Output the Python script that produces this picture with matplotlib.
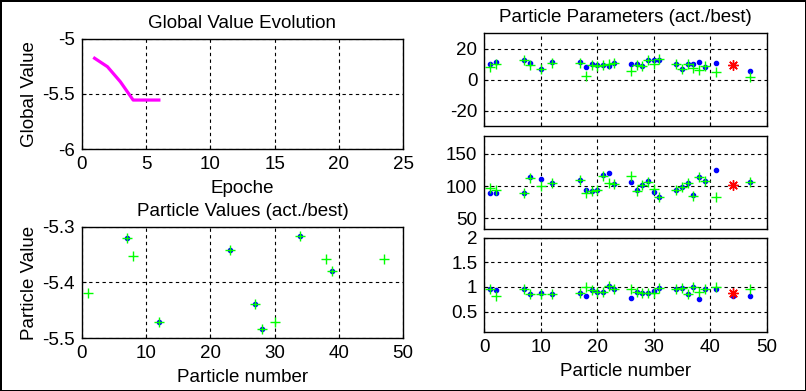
import numpy as np
import matplotlib.pyplot as plt

plt.rcParams['font.family'] = ['Liberation Sans', 'DejaVu Sans']
plt.rcParams['font.size'] = 13.5
plt.rcParams['axes.titlesize'] = 13.5
plt.rcParams['axes.labelsize'] = 13.5
plt.rcParams['xtick.labelsize'] = 13.5
plt.rcParams['ytick.labelsize'] = 13.5

# Global value per epoch
epochs = [1, 2, 3, 4, 5, 6]
global_value = [-5.175, -5.252, -5.388, -5.555, -5.555, -5.555]

# Particle values (act. = blue, best = green)
pv_act_idx = [7, 12, 23, 27, 28, 34, 39]
pv_act = [-5.321, -5.470, -5.342, -5.439, -5.484, -5.316, -5.379]
pv_best_idx = [1, 7, 8, 12, 23, 27, 28, 30, 34, 38, 39, 47]
pv_best = [-5.419, -5.321, -5.353, -5.470, -5.342, -5.439, -5.484, -5.470,
           -5.316, -5.357, -5.379, -5.358]

# Particle parameters
particles = [1, 2, 7, 8, 10, 12, 17, 18, 19, 20, 21, 22, 23, 26, 27, 28, 29,
             30, 31, 34, 35, 36, 37, 38, 39, 41, 47]
p1_act = [9.9, 11.8, 12.5, 10.8, 7.1, 11.2, 11.2, 8.4, 9.9, 9.5, 9.5, 9.2, 11.0,
          9.9, 9.9, 9.2, 12.9, 13.1, 13.1, 10.5, 6.7, 9.9, 10.5, 11.2, 8.4, 11.0, 5.4]
p1_best = [8.2, 10.5, 12.5, 9.7, 6.9, 11.0, 11.0, 2.6, 9.7, 9.2, 9.5, 9.9, 11.0,
           5.6, 9.7, 9.2, 12.9, 9.9, 13.3, 10.5, 6.7, 9.9, 7.5, 6.5, 8.6, 5.2, 1.9]
p2_act = [89.2, 89.2, 89.2, 113.4, 110.8, 105.2, 109.8, 93.8, 92.3, 93.3, 116.5,
          120.1, 103.6, 106.2, 93.8, 101.5, 107.2, 90.7, 83.0, 93.8, 98.5, 104.6,
          86.1, 113.9, 108.2, 124.7, 105.7]
p2_best = [96.9, 94.3, 89.2, 112.4, 100.5, 105.2, 109.3, 89.2, 91.8, 93.3, 115.0,
           104.6, 103.6, 116.0, 92.8, 101.5, 106.7, 95.9, 83.0, 93.3, 98.5, 104.6,
           84.5, 113.4, 107.2, 83.0, 106.2]
p3_act = [0.967, 0.94, 0.967, 0.86, 0.873, 0.847, 0.867, 0.807, 0.94, 0.887, 0.887,
          1.013, 0.967, 0.78, 0.9, 0.88, 0.88, 0.907, 0.98, 0.96, 0.98, 0.853,
          0.993, 0.76, 0.96, 0.967, 0.807]
p3_best = [0.953, 0.82, 0.967, 0.86, 0.86, 0.847, 0.867, 1.0, 0.94, 0.887, 0.887,
           1.02, 0.967, 0.953, 0.9, 0.88, 0.88, 0.873, 0.98, 0.96, 0.98, 0.853,
           1.0, 0.887, 0.96, 1.0, 0.953]

# Global best particle
gbest_idx = 44
gbest_params = [9.7, 101.5, 0.88]
gbest_act = [9.7, 101.5, 0.81]

W, H = 806, 391
fig = plt.figure(figsize=(W / 100, H / 100), dpi=100)
fig.patch.set_edgecolor('black')
fig.patch.set_linewidth(2)


def style(ax):
    ax.grid(True, color='black', linestyle=(0, (3, 3)), linewidth=0.8)
    ax.set_axisbelow(True)
    ax.tick_params(direction='in', length=3, color='black', pad=5)
    for s in ax.spines.values():
        s.set_linewidth(1.0)


# Global Value Evolution
ax1 = fig.add_axes([0.1014, 0.6189, 0.3988, 0.2814])
ax1.plot(epochs, global_value, color='magenta', lw=2.3)
ax1.set_xlim(0, 25)
ax1.set_ylim(-6, -5)
ax1.set_xticks([0, 5, 10, 15, 20, 25])
ax1.set_yticks([-6, -5.5, -5])
ax1.set_yticklabels(['-6', '-5.5', '-5'])
ax1.set_title('Global Value Evolution', pad=8)
ax1.set_xlabel('Epoche', labelpad=5)
ax1.set_ylabel('Global Value', labelpad=3)
style(ax1)

# Particle Values
ax2 = fig.add_axes([0.1014, 0.1348, 0.3988, 0.2854])
ax2.plot(pv_act_idx, pv_act, ls='none', marker='o', ms=3, color='blue')
ax2.plot(pv_best_idx, pv_best, ls='none', marker='+', ms=7, mew=1.0,
         color=(0, 1, 0))
ax2.set_xlim(0, 50)
ax2.set_ylim(-5.5, -5.3)
ax2.set_xticks([0, 10, 20, 30, 40, 50])
ax2.set_yticks([-5.5, -5.4, -5.3])
ax2.set_yticklabels(['-5.5', '-5.4', '-5.3'])
ax2.set_title('Particle Values (act./best)', pad=8)
ax2.set_xlabel('Particle number', labelpad=5)
ax2.set_ylabel('Particle Value', labelpad=3)
style(ax2)

# Particle Parameters
right_boxes = [[0.6009, 0.677, 0.3504, 0.2378],
               [0.6009, 0.4135, 0.3504, 0.2394],
               [0.6009, 0.1517, 0.3504, 0.2404]]
acts = [p1_act, p2_act, p3_act]
bests = [p1_best, p2_best, p3_best]
ylims = [(-30, 30), (33, 178), (0.09, 2)]
yticks = [[-20, 0, 20], [50, 100, 150], [0.5, 1, 1.5, 2]]
yticklabels = [['-20', '0', '20'], ['50', '100', '150'], ['0.5', '1', '1.5', '2']]

for i, box in enumerate(right_boxes):
    ax = fig.add_axes(box)
    ax.plot(particles + [gbest_idx], acts[i] + [gbest_act[i]], ls='none',
            marker='o', ms=3, color='blue')
    ax.plot(particles, bests[i], ls='none', marker='+', ms=7, mew=1.0,
            color=(0, 1, 0))
    ax.plot([gbest_idx], [gbest_params[i]], ls='none', marker=(8, 2, 0),
            ms=7.5, mew=1.0, color='red')
    ax.set_xlim(0, 50)
    ax.set_ylim(*ylims[i])
    ax.set_xticks([0, 10, 20, 30, 40, 50])
    ax.set_yticks(yticks[i])
    ax.set_yticklabels(yticklabels[i])
    style(ax)
    if i == 0:
        ax.set_title('Particle Parameters (act./best)', pad=8)
    if i < 2:
        ax.tick_params(labelbottom=False)
    else:
        ax.set_xlabel('Particle number', labelpad=5)

fig.savefig('out.png', dpi=100)
